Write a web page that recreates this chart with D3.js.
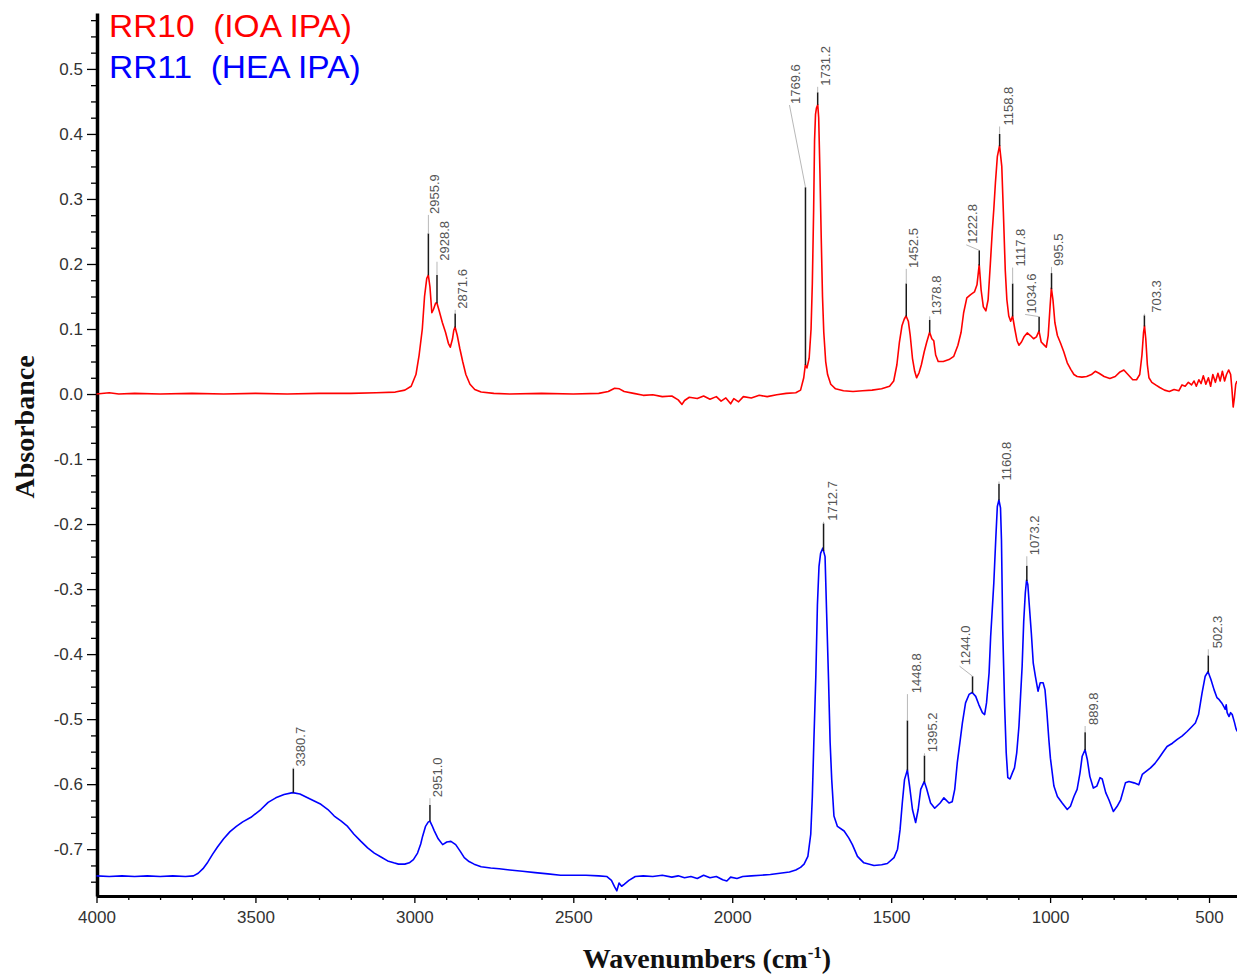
<!DOCTYPE html>
<html>
<head>
<meta charset="utf-8">
<script src="https://cdn.jsdelivr.net/npm/d3@7"></script>
<style>
  html, body { margin: 0; padding: 0; background: #fff; }
  svg { display: block; }
</style>
</head>
<body>
<svg id="chart" width="1237" height="979"></svg>
<script>
// ---------- data ----------
const seriesNames = ["RR10  (IOA IPA)", "RR11  (HEA IPA)"];

// [wavenumber cm-1, absorbance]
const rr10Spectrum = [
  [4000,0.000],[3960,0.002],[3930,0.000],[3880,0.001],[3800,0.000],[3700,0.001],[3600,0.000],
  [3500,0.001],[3400,0.000],[3300,0.001],[3200,0.001],[3120,0.002],[3060,0.003],[3030,0.006],
  [3010,0.012],[2995,0.030],[2985,0.060],[2975,0.100],[2968,0.150],[2961,0.178],[2956,0.183],
  [2951,0.165],[2945,0.125],[2940,0.130],[2933,0.140],[2929,0.140],[2922,0.128],[2912,0.110],
  [2902,0.095],[2893,0.078],[2887,0.072],[2880,0.085],[2876,0.098],[2872,0.103],[2865,0.090],
  [2857,0.070],[2848,0.050],[2838,0.030],[2825,0.015],[2810,0.007],[2790,0.003],[2750,0.001],
  [2700,0.000],[2600,0.001],[2500,0.000],[2420,0.001],[2390,0.004],[2370,0.009],[2355,0.008],
  [2340,0.004],[2310,0.001],[2280,-0.002],[2250,-0.001],[2220,-0.004],[2190,-0.003],[2170,-0.009],
  [2158,-0.016],[2150,-0.010],[2135,-0.005],[2110,-0.007],[2090,-0.003],[2070,-0.008],[2050,-0.004],
  [2035,-0.011],[2020,-0.006],[2005,-0.015],[1995,-0.007],[1980,-0.012],[1965,-0.004],[1940,-0.006],
  [1915,-0.002],[1890,-0.004],[1860,-0.001],[1830,0.001],[1800,0.002],[1785,0.006],[1775,0.025],
  [1770,0.045],[1765,0.040],[1758,0.055],[1752,0.100],[1748,0.170],[1744,0.280],[1741,0.390],
  [1738,0.430],[1735,0.440],[1731,0.445],[1728,0.425],[1724,0.340],[1720,0.240],[1716,0.150],
  [1712,0.095],[1706,0.050],
  [1700,0.030],[1690,0.015],[1675,0.008],[1650,0.005],[1620,0.004],[1590,0.005],[1560,0.006],
  [1530,0.008],[1505,0.012],[1492,0.020],[1482,0.045],[1474,0.080],[1466,0.105],[1459,0.115],
  [1453,0.120],[1446,0.112],[1440,0.090],[1433,0.055],[1426,0.035],[1420,0.025],[1412,0.033],
  [1405,0.045],[1396,0.065],[1388,0.080],[1382,0.090],[1379,0.095],[1372,0.085],[1366,0.082],
  [1360,0.060],[1352,0.050],[1336,0.050],[1318,0.053],[1303,0.058],[1290,0.075],[1280,0.095],
  [1272,0.125],[1262,0.148],[1250,0.153],[1238,0.157],[1230,0.168],[1223,0.199],[1217,0.160],
  [1210,0.134],[1202,0.128],[1195,0.145],[1188,0.200],[1182,0.250],[1177,0.285],[1172,0.325],
  [1166,0.365],[1159,0.382],[1152,0.350],[1147,0.280],[1141,0.190],[1136,0.145],[1130,0.120],
  [1124,0.112],[1118,0.120],[1111,0.100],[1104,0.082],[1098,0.075],[1090,0.080],[1082,0.088],
  [1072,0.094],[1062,0.090],[1052,0.085],[1043,0.088],[1035,0.097],[1028,0.080],[1020,0.076],
  [1012,0.072],[1006,0.090],[1000,0.135],[996,0.163],[991,0.145],[985,0.110],[977,0.090],
  [967,0.078],[957,0.065],[946,0.048],[935,0.038],[925,0.030],[915,0.027],[900,0.026],
  [885,0.027],[870,0.030],[858,0.035],[846,0.032],[830,0.027],[812,0.024],[795,0.027],
  [780,0.034],[768,0.037],[755,0.030],[740,0.022],[728,0.022],[718,0.030],[711,0.060],
  [706,0.095],[703,0.105],[699,0.085],[694,0.045],[689,0.025],[680,0.018],[668,0.014],
  [655,0.010],[640,0.006],[625,0.004],[610,0.007],[595,0.005],[585,0.014],[575,0.012],
  [565,0.018],[555,0.014],[547,0.020],[540,0.012],[532,0.022],[525,0.016],[518,0.028],
  [510,0.015],[502,0.025],[495,0.012],[488,0.030],[480,0.018],[472,0.032],[465,0.020],
  [458,0.035],[451,0.020],[445,0.030],[438,0.037],[432,0.030],[428,0.008],[424,-0.020],
  [420,-0.005],[416,0.015],[412,0.020]
];

const rr11Spectrum = [
  [4000,-0.741],[3960,-0.742],[3920,-0.741],[3880,-0.742],[3840,-0.741],[3800,-0.742],[3760,-0.741],
  [3720,-0.742],[3695,-0.741],[3680,-0.737],[3665,-0.730],[3650,-0.720],[3635,-0.708],[3620,-0.697],
  [3600,-0.684],[3580,-0.673],[3560,-0.665],[3540,-0.658],[3514,-0.651],[3483,-0.639],[3460,-0.628],
  [3436,-0.621],[3410,-0.616],[3383,-0.613],[3360,-0.615],[3336,-0.621],[3315,-0.626],[3294,-0.631],
  [3272,-0.639],[3252,-0.649],[3230,-0.657],[3210,-0.665],[3190,-0.677],[3168,-0.688],[3147,-0.698],
  [3126,-0.706],[3105,-0.712],[3084,-0.718],[3065,-0.721],[3050,-0.723],[3030,-0.723],[3016,-0.721],
  [3003,-0.716],[2990,-0.706],[2980,-0.692],[2974,-0.680],[2965,-0.665],[2956,-0.658],[2951,-0.657],
  [2944,-0.664],[2938,-0.671],[2925,-0.684],[2911,-0.693],[2898,-0.689],[2885,-0.688],[2870,-0.693],
  [2856,-0.703],[2843,-0.713],[2828,-0.719],[2812,-0.723],[2790,-0.727],[2760,-0.729],[2733,-0.730],
  [2700,-0.732],[2660,-0.734],[2620,-0.736],[2580,-0.738],[2540,-0.740],[2500,-0.740],[2460,-0.740],
  [2420,-0.741],[2395,-0.742],[2380,-0.748],[2370,-0.758],[2363,-0.764],[2356,-0.752],[2348,-0.757],
  [2340,-0.754],[2325,-0.748],[2305,-0.742],[2280,-0.741],[2250,-0.742],[2220,-0.740],[2190,-0.743],
  [2170,-0.741],[2150,-0.744],[2130,-0.742],[2110,-0.745],[2090,-0.740],[2070,-0.744],[2050,-0.742],
  [2030,-0.747],[2017,-0.749],[2005,-0.743],[1985,-0.745],[1967,-0.742],[1940,-0.741],[1910,-0.740],
  [1880,-0.739],[1850,-0.737],[1820,-0.735],[1800,-0.732],[1785,-0.728],[1774,-0.723],[1762,-0.711],
  [1753,-0.677],[1748,-0.619],[1743,-0.531],[1737,-0.434],[1732,-0.324],[1727,-0.265],[1722,-0.245],
  [1715,-0.237],[1708,-0.250],[1703,-0.337],[1697,-0.440],[1692,-0.536],[1687,-0.593],[1680,-0.649],
  [1669,-0.665],[1648,-0.672],[1633,-0.683],[1622,-0.693],[1606,-0.711],[1586,-0.721],[1554,-0.725],
  [1530,-0.724],[1512,-0.722],[1491,-0.713],[1480,-0.700],[1472,-0.670],[1465,-0.629],[1458,-0.593],
  [1449,-0.578],[1442,-0.603],[1433,-0.639],[1423,-0.659],[1415,-0.639],[1407,-0.608],[1396,-0.596],
  [1389,-0.606],[1376,-0.629],[1363,-0.637],[1346,-0.629],[1334,-0.621],[1318,-0.629],[1308,-0.627],
  [1300,-0.608],[1292,-0.567],[1284,-0.537],[1276,-0.506],[1266,-0.475],[1255,-0.462],[1245,-0.459],
  [1234,-0.465],[1224,-0.478],[1213,-0.490],[1206,-0.493],[1200,-0.475],[1192,-0.429],[1187,-0.373],
  [1182,-0.332],[1177,-0.290],[1171,-0.224],[1166,-0.173],[1161,-0.163],[1156,-0.175],[1153,-0.224],
  [1149,-0.362],[1143,-0.480],[1138,-0.552],[1133,-0.590],[1126,-0.592],[1119,-0.583],[1112,-0.575],
  [1105,-0.552],[1098,-0.511],[1093,-0.465],[1088,-0.419],[1083,-0.350],[1078,-0.306],[1074,-0.286],
  [1070,-0.293],[1066,-0.321],[1059,-0.368],[1053,-0.414],[1046,-0.435],[1038,-0.457],[1031,-0.444],
  [1022,-0.444],[1016,-0.455],[1010,-0.490],[1004,-0.531],[999,-0.560],[988,-0.603],[977,-0.619],
  [962,-0.629],[946,-0.639],[936,-0.634],[925,-0.619],[915,-0.608],[906,-0.583],[899,-0.557],
  [890,-0.547],[883,-0.562],[875,-0.588],[864,-0.606],[853,-0.603],[843,-0.590],[836,-0.592],
  [825,-0.613],[815,-0.624],[801,-0.642],[789,-0.634],[778,-0.624],[763,-0.598],[752,-0.596],
  [736,-0.598],[721,-0.601],[710,-0.585],[697,-0.580],[684,-0.575],[670,-0.568],[658,-0.560],
  [645,-0.551],[632,-0.542],[615,-0.537],[600,-0.531],[585,-0.526],[569,-0.519],[555,-0.512],
  [543,-0.506],[533,-0.493],[527,-0.475],[522,-0.460],[512,-0.434],[503,-0.427],[494,-0.439],
  [484,-0.455],[475,-0.467],[468,-0.470],[460,-0.475],[452,-0.482],[449,-0.485],[446,-0.478],
  [443,-0.490],[437,-0.496],[432,-0.490],[427,-0.493],[420,-0.505],[415,-0.515],[411,-0.519]
];

// peak picks: wavenumber, absorbance at top of the black marker, absorbance where the label begins
const rr10Peaks      = [2955.9, 2928.8, 2871.6, 1769.6, 1731.2, 1452.5, 1378.8, 1222.8, 1158.8, 1117.8, 1034.6, 995.5, 703.3];
const rr10MarkerTops = [0.247, 0.183, 0.124, 0.318, 0.464, 0.170, 0.114, 0.221, 0.400, 0.170, 0.119, 0.186, 0.121];
const rr10LabelBases = [0.277, 0.205, 0.131, 0.446, 0.474, 0.194, 0.121, 0.231, 0.413, 0.196, 0.124, 0.197, 0.125];

const rr11Peaks      = [3380.7, 2951.0, 1712.7, 1448.8, 1395.2, 1244.0, 1160.8, 1073.2, 889.8, 502.3];
const rr11MarkerTops = [-0.576, -0.632, -0.199, -0.502, -0.556, -0.434, -0.138, -0.264, -0.520, -0.402];
const rr11LabelBases = [-0.573, -0.620, -0.195, -0.460, -0.551, -0.417, -0.133, -0.248, -0.509, -0.391];

const xMajorTicks = [4000, 3500, 3000, 2500, 2000, 1500, 1000, 500];
const yMajorTicks = [-0.7, -0.6, -0.5, -0.4, -0.3, -0.2, -0.1, 0.0, 0.1, 0.2, 0.3, 0.4, 0.5];

// ---------- layout ----------
const colors = ["#ff0000", "#0000ff"];
// horizontal shift (px) of each peak label from its marker; negative shifts use a slanted leader
const rr10LabelShift = [6, 7, 7, -10, 8, 7, 7, -7, 9, 8, -8, 7, 12];
const rr11LabelShift = [7, 7, 9, 9, 8, -7, 7, 8, 8, 9];

const svg = d3.select("#chart");
const x = d3.scaleLinear().domain([4000, 412]).range([96.5, 1237]);
const y = d3.scaleLinear().domain([-0.772, 0.586]).range([896, 13]);

const fmt = v => (Math.abs(v) < 1e-9 ? 0 : v).toFixed(1);

// minor ticks
const xMinor = d3.range(4000, 411, -100).filter(v => !xMajorTicks.includes(v));
const yMinor = d3.range(-0.75, 0.59, 0.025).map(v => +v.toFixed(3))
  .filter(v => !yMajorTicks.some(m => Math.abs(m - v) < 1e-6));

svg.append("g")
  .attr("transform", "translate(0,896)")
  .call(d3.axisBottom(x).tickValues(xMinor).tickSize(4).tickFormat(""))
  .call(g => g.select(".domain").remove())
  .call(g => g.selectAll("line").attr("stroke", "#000").attr("stroke-width", 1.3));

svg.append("g")
  .attr("transform", "translate(97,0)")
  .call(d3.axisLeft(y).tickValues(yMinor).tickSize(6).tickFormat(""))
  .call(g => g.select(".domain").remove())
  .call(g => g.selectAll("line").attr("stroke", "#000").attr("stroke-width", 1.3));

const xAxis = svg.append("g")
  .attr("transform", "translate(0,896)")
  .call(d3.axisBottom(x).tickValues(xMajorTicks).tickSize(7).tickSizeOuter(0).tickPadding(8).tickFormat(d3.format("d")));
xAxis.select(".domain").attr("stroke", "#000").attr("stroke-width", 3);
xAxis.selectAll("line").attr("stroke", "#000").attr("stroke-width", 1.3);
xAxis.selectAll("text")
  .attr("font-family", "Liberation Sans, Arial, sans-serif")
  .attr("font-size", 17).attr("fill", "#333");

const yAxis = svg.append("g")
  .attr("transform", "translate(97,0)")
  .call(d3.axisLeft(y).tickValues(yMajorTicks).tickSize(10).tickSizeOuter(0).tickPadding(4).tickFormat(fmt));
yAxis.select(".domain").attr("stroke", "#000").attr("stroke-width", 3.5);
yAxis.selectAll("line").attr("stroke", "#000").attr("stroke-width", 1.3);
yAxis.selectAll("text")
  .attr("font-family", "Liberation Sans, Arial, sans-serif")
  .attr("font-size", 17).attr("fill", "#333");

// spectra
const line = d3.line().x(d => x(d[0])).y(d => y(d[1]));
[rr10Spectrum, rr11Spectrum].forEach((spec, i) => {
  svg.append("path")
    .datum(spec)
    .attr("d", line)
    .attr("fill", "none")
    .attr("stroke", colors[i])
    .attr("stroke-width", 1.6)
    .attr("stroke-linejoin", "round");
});

// absorbance of a spectrum at a given wavenumber (linear between samples)
function absorbanceAt(spec, w) {
  for (let i = 0; i < spec.length - 1; i++) {
    const [w0, a0] = spec[i], [w1, a1] = spec[i + 1];
    if (w0 >= w && w1 <= w) return a0 + (a1 - a0) * (w0 - w) / (w0 - w1);
  }
  return spec[spec.length - 1][1];
}

// peak markers and labels
function drawPeaks(spec, peaks, tops, bases, shifts) {
  const g = svg.append("g");
  peaks.forEach((w, i) => {
    const xs = x(w);
    const y0 = y(absorbanceAt(spec, w));
    const y1 = y(tops[i]);
    const yb = y(bases[i]);
    const xl = xs + shifts[i];
    g.append("line")
      .attr("x1", xs).attr("x2", xs).attr("y1", y0).attr("y2", y1)
      .attr("stroke", "#1a1a1a").attr("stroke-width", 1.5);
    g.append("line")
      .attr("x1", xs).attr("y1", y1)
      .attr("x2", Math.min(xs, xl - 6)).attr("y2", yb + 1)
      .attr("stroke", "#b8b8b8").attr("stroke-width", 1);
    g.append("text")
      .attr("transform", `translate(${xl},${yb}) rotate(-90)`)
      .attr("dy", "0.35em")
      .attr("font-family", "Liberation Sans, Arial, sans-serif")
      .attr("font-size", 13)
      .attr("fill", "#555")
      .text(w.toFixed(1));
  });
}
drawPeaks(rr10Spectrum, rr10Peaks, rr10MarkerTops, rr10LabelBases, rr10LabelShift);
drawPeaks(rr11Spectrum, rr11Peaks, rr11MarkerTops, rr11LabelBases, rr11LabelShift);

// legend (slightly wide lettering)
seriesNames.forEach((name, i) => {
  svg.append("text")
    .attr("transform", `translate(109,${37 + i * 41}) scale(1.08,1)`)
    .attr("font-family", "Liberation Sans, Arial, sans-serif")
    .attr("font-size", 31)
    .attr("fill", colors[i])
    .style("white-space", "pre")
    .text(name);
});

// axis titles
svg.append("text")
  .attr("transform", "translate(34,427) rotate(-90)")
  .attr("text-anchor", "middle")
  .attr("font-family", "Liberation Serif, Times New Roman, serif")
  .attr("font-weight", "bold")
  .attr("font-size", 28)
  .attr("fill", "#111")
  .text("Absorbance");

const xt = svg.append("text")
  .attr("x", 707).attr("y", 968)
  .attr("text-anchor", "middle")
  .attr("font-family", "Liberation Serif, Times New Roman, serif")
  .attr("font-weight", "bold")
  .attr("font-size", 28)
  .attr("fill", "#111");
xt.append("tspan").text("Wavenumbers (cm");
xt.append("tspan").attr("dy", -10).attr("font-size", 17).text("-1");
xt.append("tspan").attr("dy", 10).text(")");
</script>
</body>
</html>
